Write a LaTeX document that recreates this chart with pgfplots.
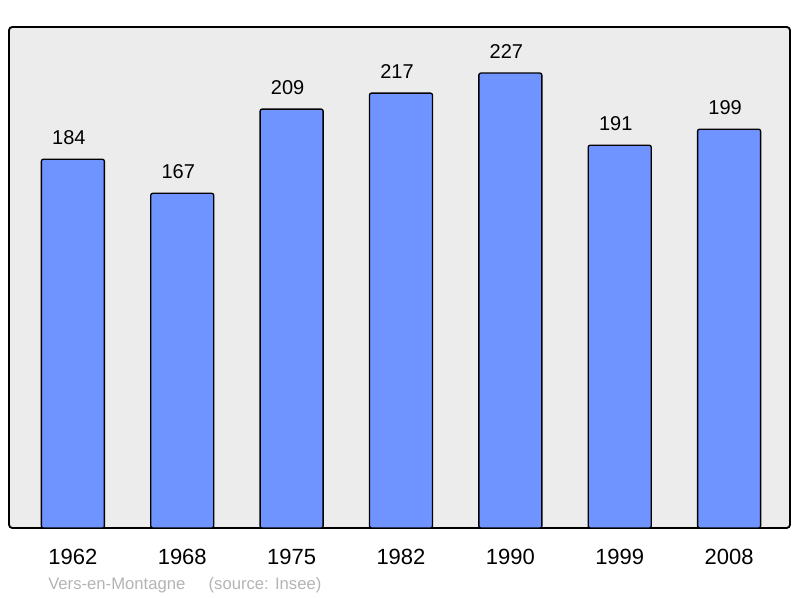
\documentclass[border=0pt]{standalone}
\usepackage{pgfplots}
\pgfplotsset{compat=1.18}
\usepackage{fontspec}
\setmainfont{Liberation Sans}
\definecolor{barblue}{HTML}{7094FF}
\definecolor{bggray}{HTML}{ECECEC}
\definecolor{footgray}{HTML}{B4B4B4}
\begin{document}
\begin{tikzpicture}
\useasboundingbox (0,0) rectangle (600pt,448.5pt);
\begin{axis}[
  at={(6.75pt,52.5pt)}, anchor=south west,
  scale only axis, width=585.75pt, height=375.75pt,
  xmin=-0.584, xmax=6.557, ymin=0, ymax=250,
  enlargelimits=false,
  axis line style={draw=none},
  axis background/.style={fill=bggray, draw=black, line width=1.4pt, rounded corners=2.5pt},
  ybar, bar width=47.25pt,
  xtick=data, xticklabels={1962,1968,1975,1982,1990,1999,2008},
  ytick=\empty, major tick length=0pt,
  xticklabel style={font=\fontsize{16.5}{18}\selectfont, yshift=-12.5pt},
  /pgf/number format/assume math mode=true,
  nodes near coords,
  nodes near coords style={font=\fontsize{15}{17}\selectfont, yshift=7pt, xshift=-3pt},
  clip=false,
]
\addplot[fill=barblue, draw=black, line width=1pt, rounded corners=1.5pt] coordinates {
(0,184) (1,167) (2,209) (3,217) (4,227) (5,191) (6,199)};
\end{axis}
\node[anchor=base west, text=footgray, font=\fontsize{12.5}{14}\selectfont, inner sep=0pt] at (36pt,6.5pt) {Vers-en-Montagne\hspace{1.4em}(source: Insee)};
\end{tikzpicture}
\end{document}
